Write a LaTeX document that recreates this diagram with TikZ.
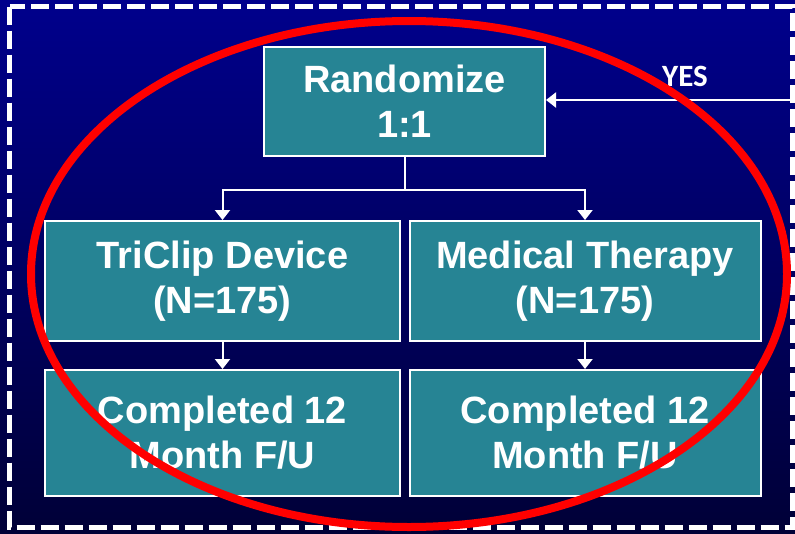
\documentclass[tikz,border=0pt]{standalone}
\usepackage{fontspec}
\setmainfont{Liberation Sans}
\newfontfamily\yesfont{Carlito}
\usetikzlibrary{arrows.meta}
\definecolor{boxteal}{RGB}{38,132,148}
\definecolor{navytop}{RGB}{0,0,140}
\definecolor{navybot}{RGB}{0,0,55}
\begin{document}
\begin{tikzpicture}[x=1pt,y=-1pt,
  box/.style={draw=white, line width=2pt, fill=boxteal, text=white,
    font=\fontsize{38}{45}\selectfont\bfseries, align=center, inner sep=0pt},
  conn/.style={draw=white, line width=2pt, -{Triangle[width=15pt,length=10pt]}},
  yeslabel/.style={text=white, font=\yesfont\fontsize{31}{36}\selectfont\bfseries, inner sep=0pt}]
\useasboundingbox (0,0) rectangle (795,533);
\fill[top color=navytop, bottom color=navybot] (0,0) rectangle (795,533);
\draw[white, line width=5pt, dash pattern=on 18pt off 6pt] (9.5,6.5) rectangle (792,527.5);

\node[box, minimum width=281pt, minimum height=109pt] (R) at (404.5,101.5) {Randomize\\1:1};
\node[box, minimum width=355pt, minimum height=120pt] (A) at (222.5,281) {TriClip Device\\(N=175)};
\node[box, minimum width=351pt, minimum height=120pt] (B) at (585,281) {Medical Therapy\\(N=175)};
\node[box, minimum width=355pt, minimum height=126pt] (C) at (222.5,433) {Completed 12\\Month F/U};
\node[box, minimum width=351pt, minimum height=126pt] (D) at (585,433) {Completed 12\\Month F/U};

\coordinate (yesend) at (797,100);
\draw[conn] (yesend) -- (yesend -| R.east);
\node[yeslabel] (yes) at (685,76) {YES};

\draw[conn] (R.south) -- ++(0,33) -| (A.north);
\draw[conn] (R.south) -- ++(0,33) -| (B.north);
\draw[conn] (A.south) -- (C.north);
\draw[conn] (B.south) -- (D.north);

\draw[red, line width=8pt] (409,274) ellipse [x radius=378pt, y radius=253pt];
\end{tikzpicture}
\end{document}
